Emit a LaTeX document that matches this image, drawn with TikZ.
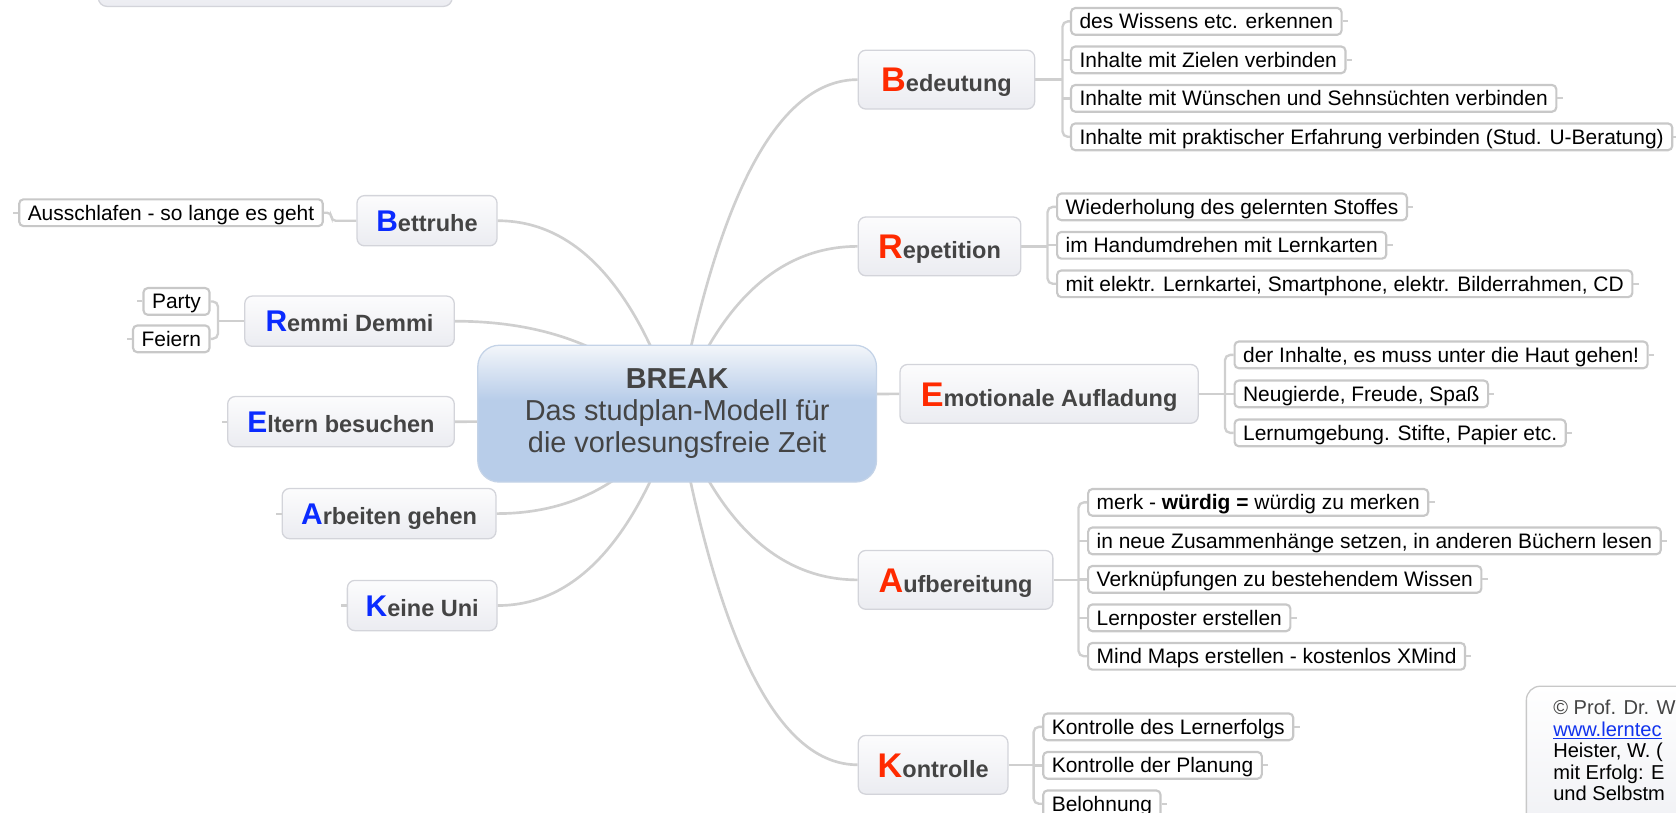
\documentclass[tikz,border=0pt]{standalone}
\usepackage{fontspec}
\setmainfont{Liberation Sans}
\usetikzlibrary{backgrounds}
\definecolor{linec}{HTML}{CFCFCF}
\definecolor{leafb}{HTML}{C8C8C8}
\definecolor{topb}{HTML}{D3D4DA}
\definecolor{toptop}{HTML}{FCFCFD}
\definecolor{topbot}{HTML}{EBECF1}
\definecolor{redL}{HTML}{FF2A00}
\definecolor{blueL}{HTML}{0A2BFF}
\definecolor{txt}{HTML}{444444}
\definecolor{cb}{HTML}{B8CDE9}
\definecolor{cw}{HTML}{F3F6FA}
\definecolor{cbord}{HTML}{C4D3E7}
\definecolor{linkc}{HTML}{1133EE}
\pgfdeclareverticalshading{centershade}{100bp}{color(0bp)=(cb); color(55bp)=(cb); color(75bp)=(cw); color(100bp)=(cw)}
\newcommand{\redlet}[1]{\textcolor{redL}{\fontsize{32}{32}\selectfont #1}}
\newcommand{\bluelet}[1]{\textcolor{blueL}{\fontsize{28}{28}\selectfont #1}}
\begin{document}
\begin{tikzpicture}[x=1pt,y=-1pt,
  rtopic/.style={draw=topb, line width=1.2pt, rounded corners=7pt, top color=toptop, bottom color=topbot,
    minimum height=55pt, inner sep=0pt, font=\fontsize{22}{24}\selectfont\bfseries, text=txt,
    text height=24pt, text depth=1pt},
  ltopic/.style={draw=topb, line width=1.2pt, rounded corners=7pt, top color=toptop, bottom color=topbot,
    minimum height=47pt, inner sep=0pt, font=\fontsize{22}{24}\selectfont\bfseries, text=txt,
    text height=21pt, text depth=1pt},
  leaf/.style={draw=leafb, line width=2pt, rounded corners=4pt, fill=white, minimum height=25pt,
    inner xsep=8pt, inner ysep=0pt, font=\fontsize{19.6}{22}\selectfont, text=black, text height=15.5pt, text depth=1.5pt},
  rleaf/.style={leaf, anchor=west},
  lleaf/.style={leaf, anchor=east},
  conn/.style={draw=linec, line width=2.5pt},
  lc/.style={draw=linec, line width=2.2pt},
  tick/.style={draw=linec, line width=2pt}]
\useasboundingbox (0,0) rectangle (1568,760.6);

% partial box at top left
\draw[draw=topb, line width=1.2pt, rounded corners=8pt, top color=toptop, bottom color=topbot] (92,-40) rectangle (423,6);

% central topic
\node[draw=cbord, line width=1.2pt, rounded corners=20pt, shade, shading=centershade,
  minimum width=373pt, minimum height=128pt, inner sep=0pt, align=center, text=txt,
  font=\fontsize{27}{30}\selectfont] (c) at (633.5,387)
  {\textbf{BREAK}\\Das studplan-Modell für\\die vorlesungsfreie Zeit};

% right main topics
\node[rtopic, minimum width=165pt] (bed) at (885.5,74.5) {\redlet{B}edeutung};
\node[rtopic, minimum width=152pt] (rep) at (879,230.5) {\redlet{R}epetition};
\node[rtopic, minimum width=279pt] (emo) at (981.5,368.5) {\redlet{E}motionale Aufladung};
\node[rtopic, minimum width=182pt] (auf) at (894,542.5) {\redlet{A}ufbereitung};
\node[rtopic, minimum width=140pt] (kon) at (873,715.5) {\redlet{K}ontrolle};

% left main topics
\node[ltopic, minimum width=131pt] (bett) at (399.5,206.5) {\bluelet{B}ettruhe};
\node[ltopic, minimum width=196pt] (remmi) at (327,300.5) {\bluelet{R}emmi Demmi};
\node[ltopic, minimum width=212pt] (elt) at (319,394.5) {\bluelet{E}ltern besuchen};
\node[ltopic, minimum width=200pt] (arb) at (364,480.5) {\bluelet{A}rbeiten gehen};
\node[ltopic, minimum width=140pt] (kei) at (395,566.5) {\bluelet{K}eine Uni};

% Bedeutung leaves
\node[rleaf] (b1) at (1001,20) {des Wissens etc. erkennen};
\node[rleaf] (b2) at (1001,56) {Inhalte mit Zielen verbinden};
\node[rleaf] (b3) at (1001,92) {Inhalte mit Wünschen und Sehnsüchten verbinden};
\node[rleaf] (b4) at (1001,128) {Inhalte mit praktischer Erfahrung verbinden (Stud. U-Beratung)};

% Repetition leaves
\node[rleaf] (r1) at (988,193.5) {Wiederholung des gelernten Stoffes};
\node[rleaf] (r2) at (988,229.5) {im Handumdrehen mit Lernkarten};
\node[rleaf] (r3) at (988,265.5) {mit elektr. Lernkartei, Smartphone, elektr. Bilderrahmen, CD};

% Emotionale leaves
\node[rleaf] (e1) at (1154,332) {der Inhalte, es muss unter die Haut gehen!};
\node[rleaf] (e2) at (1154,368.5) {Neugierde, Freude, Spaß};
\node[rleaf] (e3) at (1154,405) {Lernumgebung. Stifte, Papier etc.};

% Aufbereitung leaves
\node[rleaf] (a1) at (1017,470) {merk - \textbf{würdig =} würdig zu merken};
\node[rleaf] (a2) at (1017,506) {in neue Zusammenhänge setzen, in anderen Büchern lesen};
\node[rleaf] (a3) at (1017,542) {Verknüpfungen zu bestehendem Wissen};
\node[rleaf] (a4) at (1017,578) {Lernposter erstellen};
\node[rleaf] (a5) at (1017,614) {Mind Maps erstellen - kostenlos XMind};

% Kontrolle leaves
\node[rleaf] (k1) at (975,680) {Kontrolle des Lernerfolgs};
\node[rleaf] (k2) at (975,716) {Kontrolle der Planung};
\node[rleaf] (k3) at (975,752) {Belohnung};

% left leaves
\node[lleaf] (aus) at (303,199) {Ausschlafen - so lange es geht};
\node[lleaf] (party) at (197,282) {Party};
\node[lleaf] (feiern) at (197,317) {Feiern};

% copyright box
\draw[draw=leafb, line width=1.2pt, rounded corners=13pt, top color=white, bottom color=topbot] (1428,642) rectangle (1650,820);
\node[anchor=north west, align=left, inner sep=0pt, font=\fontsize{18.8}{20}\selectfont] (copy) at (1453,655)
  {\textcolor{txt}{© Prof. Dr. W}\\\textcolor{linkc}{\underline{www.lerntec}}\\Heister, W. (\\mit Erfolg: E\\und Selbstm};

% spine coordinates
\coordinate (bs) at (994,74.5);
\coordinate (rs) at (980,230.5);
\coordinate (es) at (1146,368.5);
\coordinate (as) at (1009,542.5);
\coordinate (ks) at (967,715.5);
\coordinate (bts) at (310,206.5);
\coordinate (rms) at (204,300.5);

\begin{scope}[on background layer]
% main curves
\draw[conn] (c.center) .. controls (672.7,178.3) and (729.3,74.5) .. (bed.west);
\draw[conn] (c.center) .. controls (672.7,282.3) and (729.3,230.5) .. (rep.west);
\draw[conn] (c.center) .. controls (681.8,374.3) and (751.5,368.5) .. (emo.west);
\draw[conn] (c.center) .. controls (672.7,490.3) and (729.3,542.5) .. (auf.west);
\draw[conn] (c.center) .. controls (672.7,605.7) and (729.3,715.5) .. (kon.west);
\draw[conn] (c.center) .. controls (593.8,266.3) and (537.8,206.5) .. (bett.east);
\draw[conn] (c.center) .. controls (584.5,329) and (515.1,300.5) .. (remmi.east);
\draw[conn] (c.center) .. controls (584.5,391.7) and (515.1,394.5) .. (elt.east);
\draw[conn] (c.center) .. controls (593.5,449) and (537.2,480.5) .. (arb.east);
\draw[conn] (c.center) .. controls (593.8,506.3) and (537.8,566.5) .. (kei.east);

% Bedeutung branch
\draw[lc] (bed.east) -- (bs);
\draw[lc, rounded corners=5pt] (b1.west) -| (bs) |- (b4.west);
\draw[lc] (b2.west -| bs) -- (b2.west);
\draw[lc] (b3.west -| bs) -- (b3.west);
% Repetition branch
\draw[lc] (rep.east) -- (rs);
\draw[lc, rounded corners=5pt] (r1.west) -| (rs) |- (r3.west);
\draw[lc] (r2.west -| rs) -- (r2.west);
% Emotionale branch
\draw[lc] (emo.east) -- (es);
\draw[lc, rounded corners=5pt] (e1.west) -| (es) |- (e3.west);
\draw[lc] (e2.west -| es) -- (e2.west);
% Aufbereitung branch
\draw[lc] (auf.east) -- (as);
\draw[lc, rounded corners=5pt] (a1.west) -| (as) |- (a5.west);
\draw[lc] (a2.west -| as) -- (a2.west);
\draw[lc] (a3.west -| as) -- (a3.west);
\draw[lc] (a4.west -| as) -- (a4.west);
% Kontrolle branch
\draw[lc] (kon.east) -- (ks);
\draw[lc, rounded corners=5pt] (k1.west) -| (ks) |- (k3.west);
\draw[lc] (k2.west -| ks) -- (k2.west);
% Bettruhe branch
\draw[lc, rounded corners=4pt] (bett.west) -- (bts) |- (aus.east);
% Remmi Demmi branch
\draw[lc] (remmi.west) -- (rms);
\draw[lc, rounded corners=5pt] (party.east) -| (rms) |- (feiern.east);
\end{scope}

% ticks
\foreach \n in {b1,b2,b3,b4,r1,r2,r3,e1,e2,e3,a1,a2,a3,a4,a5,k1,k2,k3}
  \draw[tick] (\n.east) -- ++(5,0);
\foreach \n in {aus,party,feiern,elt,arb,kei}
  \draw[tick] (\n.west) -- ++(-5,0);
\end{tikzpicture}
\end{document}
